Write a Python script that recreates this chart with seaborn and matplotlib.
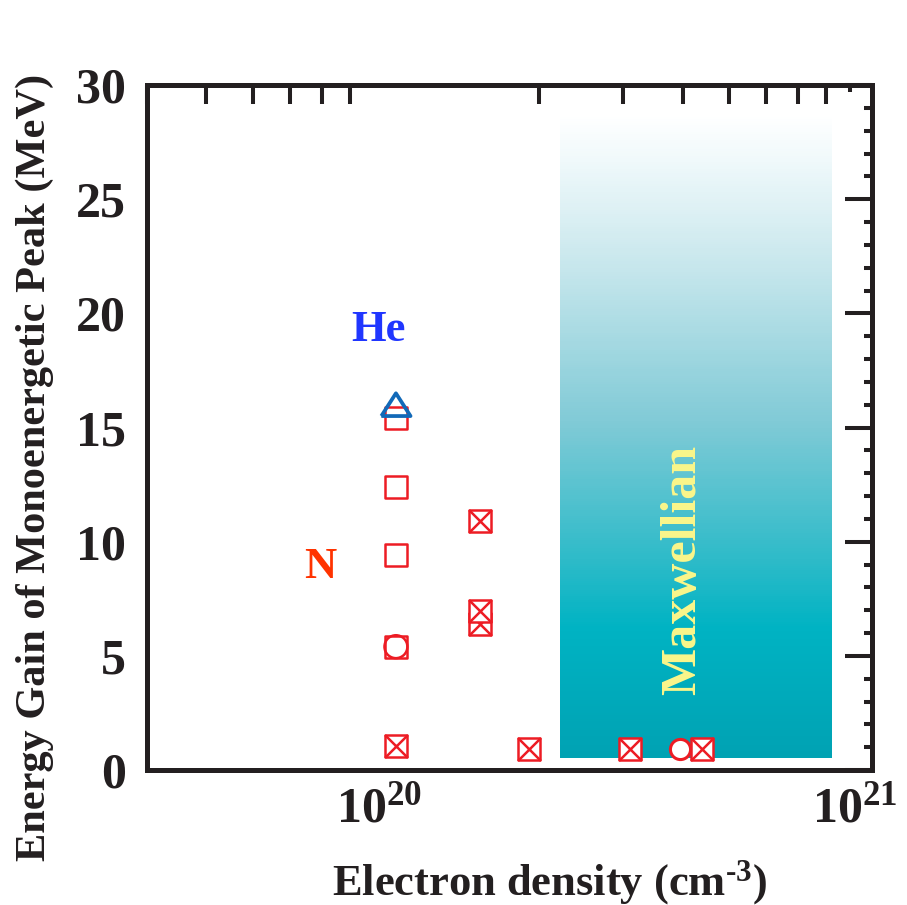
import numpy as np
import matplotlib
matplotlib.use("Agg")
import matplotlib.pyplot as plt
import matplotlib.transforms as mtransforms
import seaborn as sns
from matplotlib.ticker import FixedLocator, FixedFormatter, NullFormatter
from matplotlib.colors import LinearSegmentedColormap

# ---------------- data ----------------
square_x = [1e20, 1e20, 1e20]
square_y = [15.4, 12.4, 9.4]
ring_square_x = [1e20]
ring_square_y = [5.4]
cross_x = [1.0e20, 1.5e20, 1.5e20, 1.5e20, 1.9e20, 3.1e20, 4.4e20]
cross_y = [1.05, 10.9, 6.4, 6.95, 0.92, 0.92, 0.92]
circle_x = [3.95e20]
circle_y = [0.92]
he_x = [1e20]
he_y = [16.0]
maxwell_x = [2.21e20, 8.25e20]
maxwell_y = [0.53, 28.8]

x_major = [1e20, 1e21]
x_major_labels = [r"$\mathbf{10^{20}}$", r"$\mathbf{10^{21}}$"]
x_minor = [3e19, 4e19, 5e19, 6e19, 7e19, 8e19, 9e19,
           2e20, 3e20, 4e20, 5e20, 6e20, 7e20, 8e20, 9e20]
y_major = [0, 5, 10, 15, 20, 25, 30]
y_minor = [v for v in range(0, 31) if v % 5]

RED = "#ed1c24"
BLUE_TRI = "#1269b8"
INK = "#231f20"

# ---------------- style ----------------
sns.set_theme(style="white")
plt.rcParams["font.family"] = ["Liberation Serif", "DejaVu Serif"]
plt.rcParams["font.weight"] = "bold"
plt.rcParams["mathtext.fontset"] = "custom"
plt.rcParams["mathtext.rm"] = "Liberation Serif:bold"
plt.rcParams["mathtext.bf"] = "Liberation Serif:bold"
plt.rcParams["mathtext.it"] = "Liberation Serif:bold"

fig = plt.figure(figsize=(9.07, 9.05), dpi=100)
ax = fig.add_axes([147 / 907, 1 - 770 / 905, 725 / 907, 685 / 905])
ax.set_facecolor("white")
ax.set_xscale("log")

# ---------------- Maxwellian gradient box ----------------
grad_cmap = LinearSegmentedColormap.from_list(
    "maxw",
    [(0.0, "#00a2b3"), (0.2, "#00b3c3"), (0.3, "#2bbac8"), (0.52, "#80cad6"),
     (0.75, "#c3e5eb"), (0.92, "#eef8fa"), (1.0, "#ffffff")])
y_edges = np.linspace(maxwell_y[0], maxwell_y[1], 300)
C = np.linspace(0, 1, len(y_edges) - 1)[:, None]
ax.pcolormesh(maxwell_x, y_edges, C, cmap=grad_cmap, shading="flat",
              antialiased=False, zorder=0.5)

# ---------------- markers ----------------
MS = 16.5
LW = 1.8


def box(x, y, z):
    sns.scatterplot(x=x, y=y, marker="s", s=MS ** 2, facecolor="white",
                    edgecolor=RED, linewidth=LW, zorder=z, ax=ax, legend=False)


box(square_x, square_y, 3)
box(ring_square_x, ring_square_y, 3)
sns.scatterplot(x=ring_square_x, y=ring_square_y, marker="o", s=MS ** 2,
                facecolor="none", edgecolor=RED, linewidth=LW, zorder=3.1,
                ax=ax, legend=False)

sns.scatterplot(x=circle_x, y=circle_y, marker="o", s=(MS - 2) ** 2,
                facecolor="white", edgecolor=RED, linewidth=2.2, zorder=3,
                ax=ax, legend=False)

for i, (xi, yi) in enumerate(zip(cross_x, cross_y)):
    z = 4 + 0.1 * i
    box([xi], [yi], z)
    sns.scatterplot(x=[xi], y=[yi], marker="x", s=MS ** 2, color=RED,
                    linewidth=LW, zorder=z + 0.05, ax=ax, legend=False)

tri = [(-1, -0.78), (1, -0.78), (0, 0.78), (-1, -0.78)]
sns.scatterplot(x=he_x, y=he_y, marker=tri, s=21 ** 2, facecolor="none",
                edgecolor=BLUE_TRI, linewidth=2.7, zorder=6, ax=ax,
                legend=False)

# ---------------- axes ----------------
ax.set_xlim(3e19, 1e21)
ax.set_ylim(0, 30)

ax.xaxis.set_major_locator(FixedLocator(x_major))
ax.xaxis.set_major_formatter(FixedFormatter(x_major_labels))
ax.xaxis.set_minor_locator(FixedLocator(x_minor))
ax.xaxis.set_minor_formatter(NullFormatter())
ax.yaxis.set_major_locator(FixedLocator(y_major))
ax.yaxis.set_minor_locator(FixedLocator(y_minor))

ax.tick_params(which="both", direction="in", top=True, right=True,
               color=INK, width=2.9)
ax.tick_params(axis="y", which="major", length=19.5, pad=15,
               labelsize=36, labelcolor=INK)
ax.tick_params(axis="y", which="minor", length=5.5)
ax.tick_params(axis="x", which="major", length=8, pad=12,
               labelsize=36, labelcolor=INK)
ax.tick_params(axis="x", which="minor", length=5)

for sp in ax.spines.values():
    sp.set_color(INK)
    sp.set_linewidth(3.6)

# per-tick lengths on x (bottom short on left, long on right; top mostly long)
minor_ticks = ax.xaxis.get_minor_ticks(len(x_minor))
for t, v in zip(minor_ticks, x_minor):
    t.tick1line.set_markersize(14 if v >= 5e20 else 5)
    if v in (9e19,):
        t.tick2line.set_visible(False)
    elif v == 9e20:
        t.tick2line.set_markersize(5)
    else:
        t.tick2line.set_markersize(14)
major_ticks = ax.xaxis.get_major_ticks(len(x_major))
shift = mtransforms.ScaledTranslation(-17 / 100, 0, fig.dpi_scale_trans)
for t in major_ticks:
    t.tick2line.set_visible(False)
    t.label1.set_transform(t.label1.get_transform() + shift)

for lab in ax.get_yticklabels():
    lab.set_fontweight("bold")

ax.set_xlabel(r"Electron density (cm$^{\text{-3}}$)", fontsize=32,
              fontweight="bold", color=INK)
ax.xaxis.set_label_coords((550 - 147) / 725, (770 - 858) / 685)
ax.xaxis.label.set_va("top")

ax.set_ylabel("Energy Gain of Monoenergetic Peak (MeV)", fontsize=30.5,
              fontweight="bold", color=INK)
ax.yaxis.set_label_coords((35 - 147) / 725, (770 - 467) / 685)
ax.yaxis.label.set_va("center")

# ---------------- annotations ----------------
ax.text((378 - 147) / 725, (770 - 330) / 685, "He", transform=ax.transAxes,
        ha="center", va="center", fontsize=32, fontweight="bold",
        color="#2036ff", zorder=7)
ax.text((320 - 147) / 725, (770 - 567) / 685, "N", transform=ax.transAxes,
        ha="center", va="center", fontsize=32, fontweight="bold",
        color="#ff3300", zorder=7)
ax.text((683 - 147) / 725, (770 - 570) / 685, "Maxwellian",
        transform=ax.transAxes, ha="center", va="center", rotation=90,
        fontsize=36, fontweight="bold", color="#fbf68a", zorder=7)

fig.savefig("out.png", dpi=100, facecolor="white")
